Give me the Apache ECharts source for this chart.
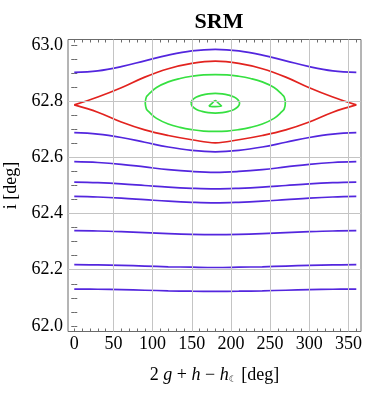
<!DOCTYPE html>
<html>
<head>
<meta charset="utf-8">
<script src="https://cdn.jsdelivr.net/npm/echarts@6/dist/echarts.min.js"></script>
<style>
  html, body { margin: 0; padding: 0; background: #fff; }
  #chart { width: 377px; height: 393px; }
</style>
</head>
<body>
<div id="chart"></div>
<script>
// angle grid for the open (circulating) curves, deg
const angles = [0, 30, 60, 90, 120, 150, 180, 210, 240, 270, 300, 330, 360];

// circulating orbits (blue/purple), inclination in deg
const orbitTop = [62.903, 62.9085, 62.9235, 62.944, 62.9645, 62.9795, 62.985, 62.9795, 62.9645, 62.944, 62.9235, 62.9085, 62.903];
const orbitA = [62.688, 62.683, 62.671, 62.654, 62.637, 62.625, 62.620, 62.625, 62.637, 62.654, 62.671, 62.683, 62.688];
const orbitB = [62.585, 62.582, 62.5755, 62.566, 62.5565, 62.550, 62.547, 62.550, 62.5565, 62.566, 62.5755, 62.582, 62.585];
const orbitC = [62.512, 62.510, 62.506, 62.500, 62.494, 62.490, 62.488, 62.490, 62.494, 62.500, 62.506, 62.510, 62.512];
const orbitD = [62.461, 62.459, 62.455, 62.4495, 62.444, 62.440, 62.438, 62.440, 62.444, 62.4495, 62.455, 62.459, 62.461];
const orbitE = [62.339, 62.338, 62.3355, 62.332, 62.3285, 62.326, 62.325, 62.326, 62.3285, 62.332, 62.3355, 62.338, 62.339];
const orbitF = [62.218, 62.217, 62.2155, 62.213, 62.2105, 62.209, 62.208, 62.209, 62.2105, 62.213, 62.2155, 62.217, 62.218];
const orbitG = [62.131, 62.1305, 62.129, 62.127, 62.125, 62.1235, 62.123, 62.1235, 62.125, 62.127, 62.129, 62.1305, 62.131];

// separatrix (red)
const sepUpper = [62.787, 62.815, 62.848, 62.886, 62.916, 62.935, 62.943, 62.935, 62.916, 62.886, 62.848, 62.815, 62.787];
const sepLower = [62.787, 62.761, 62.726, 62.698, 62.678, 62.663, 62.652, 62.663, 62.678, 62.698, 62.726, 62.761, 62.787];

// librating orbits (green), closed loops
const libOuterX = [90.6, 92, 95, 105, 120, 135, 150, 165, 180, 195, 210, 225, 240, 255, 265, 268, 269.4,
                   268, 265, 255, 240, 225, 210, 195, 180, 165, 150, 135, 120, 105, 95, 92, 90.6];
const libOuterY = [62.794, 62.815, 62.825, 62.849, 62.869, 62.881, 62.889, 62.894, 62.895, 62.894, 62.889, 62.881, 62.869, 62.849, 62.825, 62.815, 62.794,
                   62.773, 62.763, 62.739, 62.719, 62.707, 62.699, 62.694, 62.693, 62.694, 62.699, 62.707, 62.719, 62.739, 62.763, 62.773, 62.794];
const libMidX = [149, 151, 156, 163, 171, 180, 189, 197, 204, 209, 211, 209, 204, 197, 189, 180, 171, 163, 156, 151, 149];
const libMidY = [62.793, 62.805, 62.815, 62.822, 62.8265, 62.828, 62.8265, 62.822, 62.815, 62.805, 62.793,
                 62.781, 62.771, 62.764, 62.7595, 62.758, 62.7595, 62.764, 62.771, 62.781, 62.793];
const libInnerX = [171.8, 176, 180, 184, 188, 180, 171.8];
const libInnerY = [62.783, 62.793, 62.8025, 62.793, 62.783, 62.781, 62.783];

// ticks: labels at majors, tick marks at every minor step
const xLabels = [0, 50, 100, 150, 200, 250, 300, 350];
const xTicks = [0, 10, 20, 30, 40, 50, 60, 70, 80, 90, 100, 110, 120, 130, 140, 150, 160, 170, 180,
                190, 200, 210, 220, 230, 240, 250, 260, 270, 280, 290, 300, 310, 320, 330, 340, 350, 360];
const yLabels = [62.0, 62.2, 62.4, 62.6, 62.8, 63.0];
const yTicks = [62.0, 62.05, 62.1, 62.15, 62.2, 62.25, 62.3, 62.35, 62.4, 62.45, 62.5, 62.55,
                62.6, 62.65, 62.7, 62.75, 62.8, 62.85, 62.9, 62.95, 63.0];
const xGrid = [50, 100, 150, 200, 250, 300, 350];
const yGrid = [62.2, 62.4, 62.6, 62.8];

const FONT = "'Liberation Serif', 'DejaVu Serif', serif";
const BLUE = '#5326de';
const RED = '#e2231f';
const GREEN = '#36e041';
const FRAME = '#6b6b6b';

function pairs(xs, ys) {
  return xs.map((x, i) => [x, ys[i]]);
}

function curve(xs, ys, color) {
  return {
    type: 'line',
    data: pairs(xs, ys),
    smooth: 0.4,
    showSymbol: false,
    symbol: 'none',
    z: 3,
    lineStyle: { color: color, width: 1.7 },
    silent: true,
    animation: false
  };
}

function xAxisDef(pos, labels) {
  return {
    type: 'value', position: pos, min: -8, max: 366,
    axisLine: { show: false },
    splitLine: { show: false },
    axisTick: { show: true, inside: true, length: 3, customValues: xTicks, lineStyle: { color: FRAME } },
    axisLabel: labels
      ? { show: true, customValues: xLabels, margin: 4, color: '#000', fontFamily: FONT, fontSize: 18 }
      : { show: false }
  };
}

function yAxisDef(pos, labels) {
  return {
    type: 'value', position: pos, min: 61.98, max: 63.02,
    axisLine: { show: false },
    splitLine: { show: false },
    axisTick: { show: true, inside: true, length: 3, customValues: yTicks, lineStyle: { color: FRAME } },
    axisLabel: labels
      ? { show: true, customValues: yLabels, margin: 5, color: '#000', fontFamily: FONT, fontSize: 18,
          formatter: v => v.toFixed(1) }
      : { show: false }
  };
}

const chart = echarts.init(document.getElementById('chart'));

const xMain = xAxisDef('bottom', true);
xMain.name = '{n|2 }{i|g}{n| + }{i|h}{n| − }{i|h}{s|☾}{n| [deg]}';
xMain.nameLocation = 'middle';
xMain.nameGap = 35;
xMain.nameTextStyle = {
  rich: {
    n: { fontFamily: FONT, fontSize: 18, color: '#000' },
    i: { fontFamily: FONT, fontSize: 18, fontStyle: 'italic', color: '#000' },
    s: { fontFamily: "'DejaVu Sans', sans-serif", fontSize: 9, color: '#000', padding: [9, 0, 0, 0] }
  }
};

const yMain = yAxisDef('left', true);
yMain.name = 'i [deg]';
yMain.nameLocation = 'middle';
yMain.nameRotate = 90;
yMain.nameGap = 46;
yMain.nameTextStyle = { fontFamily: FONT, fontSize: 18, color: '#000' };

const option = {
  backgroundColor: '#fff',
  title: {
    text: 'SRM',
    left: 214,
    top: 6,
    textAlign: 'center',
    textStyle: { fontFamily: FONT, fontSize: 22, fontWeight: 'bold', color: '#000' }
  },
  grid: {
    left: 68, right: 16, top: 39.5, bottom: 61.5,
    containLabel: false,
    outerBoundsMode: 'none',
    show: true, borderColor: FRAME, borderWidth: 1, backgroundColor: 'transparent'
  },
  xAxis: [xMain, xAxisDef('top', false)],
  yAxis: [yMain, yAxisDef('right', false)],
  series: [
    {
      // grid lines, bound to the top/right axes (same ranges as the main ones)
      type: 'line',
      xAxisIndex: 1,
      yAxisIndex: 1,
      data: [],
      z: 1,
      silent: true,
      animation: false,
      markLine: {
        silent: true,
        symbol: ['none', 'none'],
        label: { show: false },
        animation: false,
        lineStyle: { color: '#c4c4c4', width: 1, type: 'solid' },
        data: xGrid.map(v => ({ xAxis: v })).concat(yGrid.map(v => ({ yAxis: v })))
      }
    },
    curve(angles, orbitG, BLUE),
    curve(angles, orbitF, BLUE),
    curve(angles, orbitE, BLUE),
    curve(angles, orbitD, BLUE),
    curve(angles, orbitC, BLUE),
    curve(angles, orbitB, BLUE),
    curve(angles, orbitA, BLUE),
    curve(angles, orbitTop, BLUE),
    curve(angles, sepUpper, RED),
    curve(angles, sepLower, RED),
    curve(libOuterX, libOuterY, GREEN),
    curve(libMidX, libMidY, GREEN),
    curve(libInnerX, libInnerY, GREEN)
  ]
};

chart.setOption(option);
window.addEventListener('resize', () => {
  chart.resize();
});
</script>
</body>
</html>
